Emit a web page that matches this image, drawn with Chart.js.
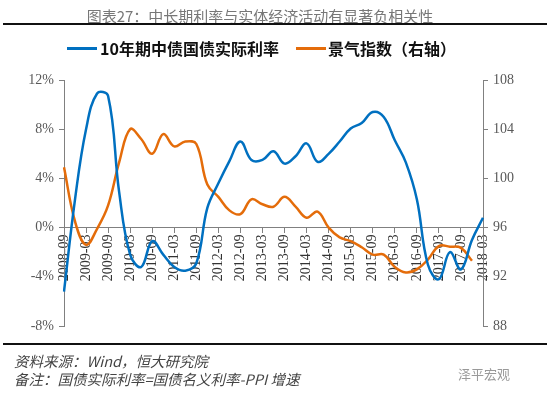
<!DOCTYPE html>
<html>
<head>
<meta charset="utf-8">
<script src="https://cdn.jsdelivr.net/npm/chart.js@4"></script>
<style>
    body { margin: 0; width: 550px; height: 397px; overflow: hidden; background: #fff; position: relative; }
    #chart { position: absolute; left: 0; top: 0; }
    .txt { position: absolute; white-space: nowrap; font-family: "Noto Sans CJK SC", sans-serif; }
    #title { left: 0; width: 520px; text-align: center; top: 5px; font-size: 15px; color: #777; }
    .rule { position: absolute; left: 3px; width: 544px; height: 2px; background: #111; }
    .legend { top: 38px; font-size: 16px; font-weight: bold; color: #111; line-height: 20px; }
    .swatch { position: absolute; height: 3px; top: 47px; }
    .note { left: 14px; font-size: 14.5px; font-style: italic; color: #444; }
    #mark { left: 458px; top: 364px; font-size: 13px; color: #999; }
</style>
</head>
<body>
<canvas id="chart" width="550" height="397"></canvas>
<div id="title" class="txt">图表27：中长期利率与实体经济活动有显著负相关性</div>
<div class="rule" style="top:23px"></div>
<div class="swatch" style="left:67px;width:30px;background:#0070c0"></div>
<div class="txt legend" style="left:100px">10年期中债国债实际利率</div>
<div class="swatch" style="left:296px;width:30px;background:#e46c0a"></div>
<div class="txt legend" style="left:328px">景气指数（右轴）</div>
<div class="rule" style="top:343px"></div>
<div class="txt note" style="top:350px">资料来源：Wind，恒大研究院</div>
<div class="txt note" style="top:368px">备注：国债实际利率=国债名义利率-PPI 增速</div>
<div id="mark" class="txt">泽平宏观</div>
<script>
// 季度数据，2008-09 至 2018-03
const quarters = ['2008-09', '2008-12', '2009-03', '2009-06', '2009-09', '2009-12',
    '2010-03', '2010-06', '2010-09', '2010-12', '2011-03', '2011-06', '2011-09', '2011-12',
    '2012-03', '2012-06', '2012-09', '2012-12', '2013-03', '2013-06', '2013-09', '2013-12',
    '2014-03', '2014-06', '2014-09', '2014-12', '2015-03', '2015-06', '2015-09', '2015-12',
    '2016-03', '2016-06', '2016-09', '2016-12', '2017-03', '2017-06', '2017-09', '2017-12',
    '2018-03'];

// 10年期中债国债实际利率 (%)
const realRate = [-5.2, 2.3, 8.0, 10.9, 10.7, 2.9, -2.2, -3.2, -1.1, -2.2, -3.2, -3.5, -2.9, 1.6,
    3.6, 5.4, 7.0, 5.5, 5.5, 6.2, 5.2, 5.8, 6.85, 5.35, 6.0, 7.0, 8.06, 8.5, 9.4, 9.0,
    7.1, 5.3, 2.3, -3.0, -4.2, -2.0, -3.4, -1.0, 0.8];

// 景气指数（右轴）
const boomIndex = [100.9, 96.5, 94.6, 95.9, 97.8, 101.3, 104.0, 103.2, 102.0, 103.6, 102.6, 103.0,
    102.8, 99.5, 98.5, 97.4, 97.1, 98.3, 97.9, 97.7, 98.5, 97.7, 96.8, 97.3, 96.0, 95.2,
    94.9, 94.4, 93.8, 93.8, 92.8, 92.35, 92.6, 93.4, 94.5, 94.45, 94.35, 93.3];

const leftTicks = { min: -8, max: 12, step: 4 };
const rightTicks = { min: 88, max: 108, step: 4 };

const axisGray = '#808080';
const tickFont = { family: 'Liberation Serif', size: 14 };

new Chart(document.getElementById('chart'), {
    type: 'line',
    data: {
        labels: quarters,
        datasets: [{
            label: '10年期中债国债实际利率',
            data: realRate,
            borderColor: '#0070c0',
            borderWidth: 2.5,
            pointRadius: 0,
            tension: 0.4,
            yAxisID: 'y'
        }, {
            label: '景气指数（右轴）',
            data: boomIndex,
            borderColor: '#e46c0a',
            borderWidth: 2.5,
            pointRadius: 0,
            tension: 0.4,
            yAxisID: 'y1'
        }]
    },
    options: {
        responsive: false,
        animation: false,
        devicePixelRatio: 1,
        layout: { padding: { top: 80, bottom: 71, left: 0, right: 0 } },
        plugins: { legend: { display: false }, tooltip: { enabled: false } },
        scales: {
            x: {
                position: { y: 0 },
                border: { color: axisGray },
                grid: { drawOnChartArea: false, color: axisGray, tickLength: 5 },
                ticks: {
                    autoSkip: false,
                    minRotation: 90,
                    maxRotation: 90,
                    padding: 2,
                    color: '#333',
                    font: tickFont,
                    callback: (v, i) => /-(03|09)$/.test(quarters[i]) ? quarters[i] : null
                }
            },
            y: {
                position: 'left',
                min: leftTicks.min,
                max: leftTicks.max,
                afterFit: s => { s.width = 64; },
                border: { color: axisGray },
                grid: { drawOnChartArea: false, color: axisGray, tickLength: 5 },
                ticks: {
                    stepSize: leftTicks.step,
                    padding: 5,
                    color: '#595959',
                    font: tickFont,
                    callback: v => v + '%'
                }
            },
            y1: {
                position: 'right',
                min: rightTicks.min,
                max: rightTicks.max,
                afterFit: s => { s.width = 67; },
                border: { color: axisGray },
                grid: { drawOnChartArea: false, color: axisGray, tickLength: 5 },
                ticks: {
                    stepSize: rightTicks.step,
                    padding: 5,
                    color: '#595959',
                    font: tickFont
                }
            }
        }
    }
});
</script>
</body>
</html>
